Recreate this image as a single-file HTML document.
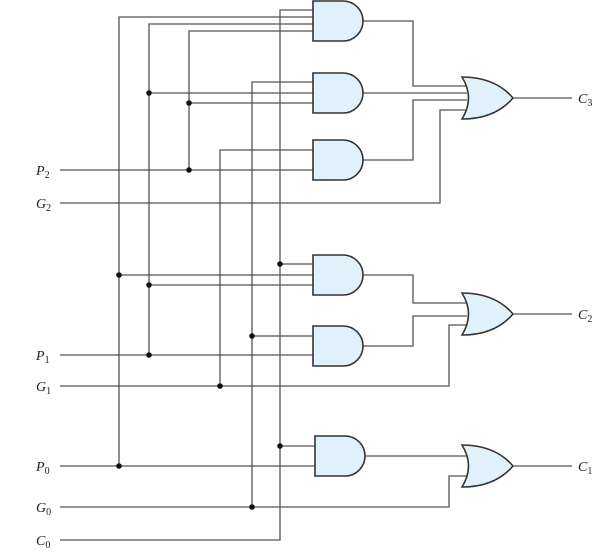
<!DOCTYPE html><html><head><style>body{margin:0;background:#fff}svg{display:block}text{font-family:"Liberation Serif",serif;font-style:italic;font-size:14px;fill:#222}sub{}</style></head><body>
<svg width="600" height="557" viewBox="0 0 600 557">
<defs>
<g id="and"><path d="M0,0 H30 A20,20 0 0 1 30,40 H0 Z" fill="#e1f1fb" stroke="#333" stroke-width="1.6"/></g>
<g id="or"><path d="M0,0 Q13,21 0,42 Q33,42 51,21 Q33,0 0,0 Z" fill="#e1f1fb" stroke="#333" stroke-width="1.6"/></g>
</defs>
<g stroke="#555" stroke-width="1.3" fill="none">
<!-- inputs -->
<path d="M60,170H316 M60,203H440V110H467 M60,355H316 M60,386H449V325H467 M60,466H316 M60,507H449V476H467 M60,540H280V10H316"/>
<!-- verticals -->
<path d="M119,466V17H316 M149,355V24H316 M189,170V31H316 M220,386V150H316 M252,507V82H316"/>
<!-- branch inputs -->
<path d="M149,93H316 M189,103H316 M280,264H316 M119,275H316 M149,285H316 M252,336H316 M280,446H316"/>
<!-- gate outputs -->
<path d="M363,21H413V86H467 M363,93H467 M363,160H413V100H467 M363,275H413V303H467 M363,346H413V316H467 M363,456H467"/>
<path d="M513,98H572 M513,314H572 M513,466H572"/>
</g>
<use href="#and" x="313" y="1"/>
<use href="#and" x="313" y="73"/>
<use href="#and" x="313" y="140"/>
<use href="#and" x="313" y="255"/>
<use href="#and" x="313" y="326"/>
<use href="#and" x="315" y="436"/>
<use href="#or" x="462" y="77"/>
<use href="#or" x="462" y="293"/>
<use href="#or" x="462" y="445"/>
<g fill="#111">
<circle cx="149" cy="93" r="2.8"/><circle cx="189" cy="103" r="2.8"/><circle cx="189" cy="170" r="2.8"/>
<circle cx="280" cy="264" r="2.8"/><circle cx="119" cy="275" r="2.8"/><circle cx="149" cy="285" r="2.8"/>
<circle cx="252" cy="336" r="2.8"/><circle cx="149" cy="355" r="2.8"/><circle cx="220" cy="386" r="2.8"/>
<circle cx="280" cy="446" r="2.8"/><circle cx="119" cy="466" r="2.8"/><circle cx="252" cy="507" r="2.8"/>
</g>
<text x="36" y="175">P<tspan font-size="10" dy="3" font-style="normal">2</tspan></text>
<text x="36" y="208">G<tspan font-size="10" dy="3" font-style="normal">2</tspan></text>
<text x="36" y="360">P<tspan font-size="10" dy="3" font-style="normal">1</tspan></text>
<text x="36" y="391">G<tspan font-size="10" dy="3" font-style="normal">1</tspan></text>
<text x="36" y="471">P<tspan font-size="10" dy="3" font-style="normal">0</tspan></text>
<text x="36" y="512">G<tspan font-size="10" dy="3" font-style="normal">0</tspan></text>
<text x="36" y="545">C<tspan font-size="10" dy="3" font-style="normal">0</tspan></text>
<text x="578" y="103">C<tspan font-size="10" dy="3" font-style="normal">3</tspan></text>
<text x="578" y="319">C<tspan font-size="10" dy="3" font-style="normal">2</tspan></text>
<text x="578" y="471">C<tspan font-size="10" dy="3" font-style="normal">1</tspan></text>
</svg></body></html>
